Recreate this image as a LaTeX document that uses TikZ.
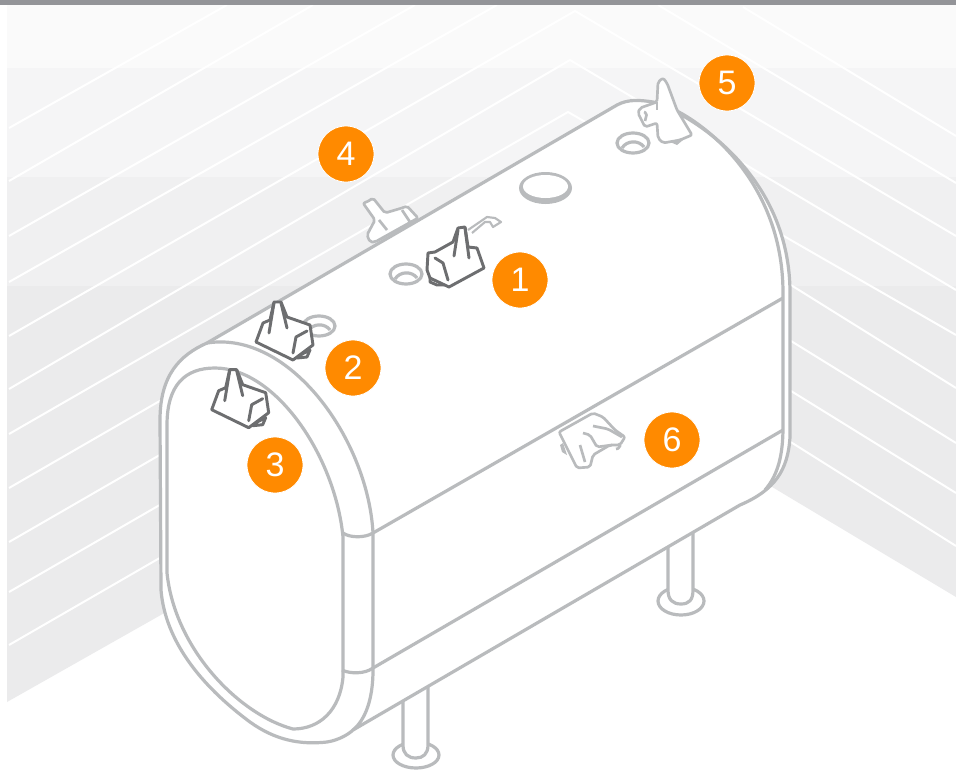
\documentclass[tikz,border=0pt]{standalone}
\usepackage{fontspec}
\setmainfont{Liberation Sans}
\usepackage{xcolor}
\definecolor{topbar}{RGB}{147,148,152}
\definecolor{bandone}{RGB}{250,250,250}
\definecolor{bandtwo}{RGB}{245,245,246}
\definecolor{bandthree}{RGB}{240,240,241}
\definecolor{bandfour}{RGB}{235,235,236}
\definecolor{tankgray}{RGB}{185,187,189}
\definecolor{valvedark}{RGB}{109,110,112}
\definecolor{badgeorange}{RGB}{255,138,0}
\tikzset{
  wallline/.style={white, line width=1.5pt},
  tankline/.style={tankgray, line width=2.4pt, line join=round},
  softline/.style={tankline, line width=2pt, rounded corners=1.5pt},
  darkline/.style={valvedark, line width=2.2pt, line join=round, line cap=round},
  badge/.style={circle, fill=badgeorange, draw=white, line width=0.6pt, minimum size=42pt, inner sep=0pt,
    text=white, font=\fontsize{25.5}{30}\selectfont},
  portring/.pic={
    \draw[tankline] (0,0) ellipse [x radius=16, y radius=10];
    \draw[tankline] (-11,5) .. controls (-6,-3) and (6,-3) .. (11,4);
  },
  filtervalve/.pic={
    \filldraw[darkline, fill=white] (44,13) -- (54,8) -- (51,15) -- (41,16) -- cycle;
    \filldraw[darkline, fill=white] (0,0) -- (7,-19) -- (14,-22) -- (18,-40) -- (25,-40) -- (31,-25)
      -- (54,-17) -- (57,3) -- (37,18) -- cycle;
    \draw[darkline] (37,11) -- (40,-5) -- (51,-11);
    \draw[darkline] (13,-9) -- (18,-39);
    \draw[darkline] (31,-14) -- (25,-39);
  }
}

\begin{document}
\begin{tikzpicture}[x=0.75pt, y=-0.75pt]
  \useasboundingbox (0,0) rectangle (956,778);
  \fill[white] (0,0) rectangle (956,778);

  % wall
  \begin{scope}
    \clip (7,5) -- (956,5) -- (956,597) -- (585,375) -- (7,702) -- cycle;
    \fill[bandone] (0,0) rectangle (956,68);
    \fill[bandtwo] (0,68) rectangle (956,177);
    \fill[bandthree] (0,177) rectangle (956,286);
    \fill[bandfour] (0,286) rectangle (956,778);
    \foreach \xa/\ya/\xb/\yb in {9/128/227/5, 9/181/313/5, 9/236/415/5, 9/282/497/5,
        9/488/300/320, 9/542/300/374, 9/592/300/424, 9/645/300/477,
        743/7/956/136, 658/5/956/183, 770/272/956/388, 770/328/956/443,
        770/378/956/493, 770/429/956/546} {
      \draw[wallline] (\xa,\ya) -- (\xb,\yb);
    }
    \draw[wallline] (9,336) -- (575,11) -- (956,236);
    \draw[wallline] (9,389) -- (570,60) -- (956,290);
    \draw[wallline] (9,434) -- (568,112) -- (956,335);
  \end{scope}

  % legs
  \filldraw[tankline, fill=white] (681,601) ellipse [x radius=23, y radius=14];
  \filldraw[tankline, fill=white] (668,520) -- (668,590) .. controls (668,600) and (673,604) .. (681,604)
    .. controls (689,604) and (693,600) .. (693,590) -- (693,520) -- cycle;
  \filldraw[tankline, fill=white] (416,755) ellipse [x radius=23, y radius=13];
  \filldraw[tankline, fill=white] (403,670) -- (403,745) .. controls (403,754) and (408,758) .. (416,758)
    .. controls (423,758) and (428,754) .. (428,745) -- (428,670) -- cycle;

  % back valve
  \filldraw[softline, fill=white] (367,202) -- (373,198) -- (385,213) -- (402,208) -- (407,206) -- (418,218)
    -- (375,242) -- (370,242) -- (367,235) -- (375,220) -- (363,203) -- cycle;
  \draw[softline] (379,220) -- (387,230);
  \draw[softline] (402,210) -- (410,222);

  % tank body
  \filldraw[tankline, fill=white] (353,730) .. controls (350,733) and (340,740) .. (327,742)
    .. controls (300,745) and (275,740) .. (250,722) .. controls (200,685) and (165,640) .. (161,590)
    -- (160,420) .. controls (160,375) and (180,355) .. (207,343) -- (617,105)
    .. controls (628,99) and (640,100) .. (653,102) .. controls (700,118) and (790,180) .. (790,293)
    -- (790,437) .. controls (788,470) and (775,490) .. (740,505) -- cycle;
  \draw[tankline] (207,343) .. controls (290,330) and (368,440) .. (373,533) -- (373,670)
    .. controls (373,700) and (365,720) .. (353,730);
  \draw[tankline] (167,573) -- (167,425) .. controls (167,385) and (185,368) .. (215,368)
    .. controls (275,368) and (335,455) .. (343,537) -- (343,677) .. controls (340,710) and (320,729) .. (293,729)
    .. controls (240,715) and (175,650) .. (167,573) -- cycle;
  \draw[tankline] (675,110) .. controls (715,130) and (783,190) .. (783,293) -- (783,427)
    .. controls (783,455) and (778,475) .. (765,490);

  % seams
  \draw[tankline] (373,533) -- (783,298);
  \draw[tankline] (373,668) -- (783,430);
  \draw[tankline] (343,533) .. controls (350,538) and (365,538) .. (373,533);
  \draw[tankline] (342,670) .. controls (350,674) and (365,674) .. (373,668);

  % ports
  \pic at (406,274) {portring};
  \pic at (319,326) {portring};
  \pic at (633,143) {portring};
  \fill[tankgray] (545.5,188) ellipse [x radius=26.5, y radius=16];
  \fill[white] (545.5,186.5) ellipse [x radius=22.5, y radius=11.5];

  % gauge pipe
  \draw[tankline, line width=1.6pt] (468,230) -- (487,217) -- (495,218) -- (501,222) -- (493,227)
    -- (490,222) -- (485,222) -- (472,233);

  % valves
  \filldraw[darkline, fill=white] (430,278) -- (430,282) -- (437,285) -- (447,285) -- cycle;
  \filldraw[darkline, fill=white] (428,253) -- (435,252) -- (453,242) -- (458,228) -- (465,227) -- (468,247)
    -- (477,248) -- (484,268) -- (449,287) -- (430,278) -- (427,270) -- cycle;
  \draw[darkline] (435,258) -- (443,263) -- (448,280);
  \draw[darkline] (454,256) -- (458,230);
  \draw[darkline] (469,258) -- (465,228);

  \pic at (256,342) {filtervalve};
  \pic at (211.7,409.7) {filtervalve};

  \fill[tankgray] (670,142) -- (683,140) -- (677,145) -- cycle;
  \filldraw[softline, fill=white] (657,102) -- (658,82) -- (663,78) -- (667,83) -- (677,110) -- (692,135)
    -- (680,140) -- (663,143) -- (658,138) -- (657,123) -- (645,127) -- (638,113) -- (640,108) -- cycle;
  \draw[softline] (657,102) -- (657,110);
  \draw[softline] (644,112) -- (647,113) -- (645,121);

  \fill[tankgray] (560,445) -- (562,452) -- (567,455) -- (563,443) -- cycle;
  \filldraw[softline, fill=white] (559,432) -- (593,413) -- (603,417) -- (615,430) -- (625,437) -- (620,445)
    -- (610,445) -- (593,455) -- (590,467) -- (577,468) -- cycle;
  \draw[softline] (593,426) -- (608,429) -- (622,437);
  \draw[softline] (583,433) -- (590,435) -- (597,447) -- (612,445);
  \draw[softline] (580,445) -- (585,462);
  \draw[softline] (616,449) -- (620,448) -- (620,445);

  % badges
  \node[badge] (one) at (520,280) {1};
  \node[badge] (two) at (353,368) {2};
  \node[badge] (three) at (275,465) {3};
  \node[badge] (four) at (346,154) {4};
  \node[badge] (five) at (727,83) {5};
  \node[badge] (six) at (672,440) {6};

  % top bar
  \fill[topbar] (0,0) rectangle (956,5);
\end{tikzpicture}
\end{document}
